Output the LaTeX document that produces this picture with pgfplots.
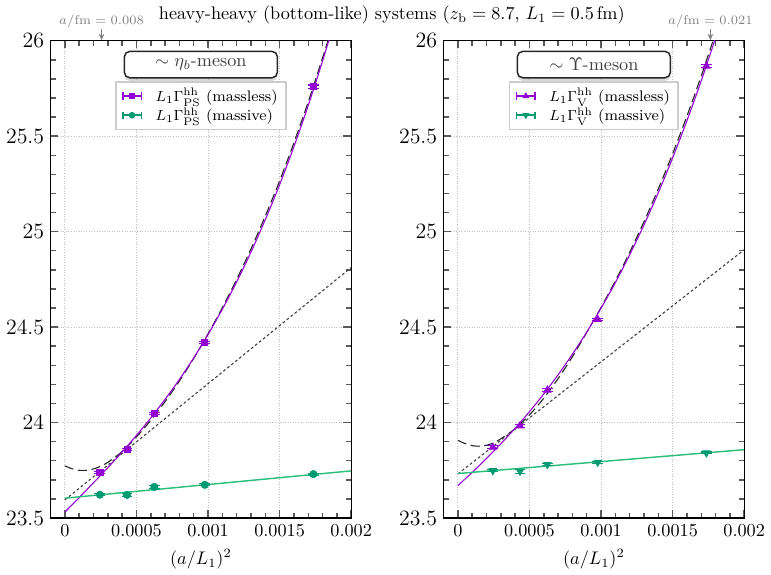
\documentclass[border=0pt]{standalone}
\usepackage{pgfplots}
\pgfplotsset{compat=1.18}
\usetikzlibrary{shadows,arrows.meta}

\definecolor{mlpurple}{RGB}{148,0,211}
\definecolor{mvgreen}{RGB}{0,155,115}
\definecolor{mvline}{RGB}{45,190,125}

\tikzset{
  mesonbox/.style={draw=black!85, fill=white, rounded corners=3pt, line width=0.8pt,
    minimum width=84pt, minimum height=14.5pt, text=black!75,
    drop shadow={shadow xshift=0pt, shadow yshift=-1.8pt, opacity=0.3}},
  latnote/.style={text=gray, font=\scriptsize, inner sep=0pt, anchor=center},
  latarrow/.style={gray, -{Stealth[length=3.5pt,width=3pt]}, line width=0.5pt},
}

\pgfplotsset{
  hh/.style={
    scale only axis, width=165pt, height=262pt,
    xmin=-0.0001, xmax=0.002, ymin=23.5, ymax=26,
    scaled x ticks=false,
    xtick={0,0.0005,0.001,0.0015,0.002},
    xticklabels={0,0.0005,0.001,0.0015,0.002},
    ytick={23.5,24,24.5,25,25.5,26},
    yticklabels={23.5,24,24.5,25,25.5,26},
    yticklabel style={font=\large},
    minor x tick num=4, minor y tick num=4,
    grid=major, grid style={densely dotted, black!25, line width=0.5pt},
    axis line style={line width=0.7pt},
    tick style={black!65, line width=0.8pt},
    tick align=inside,
    xlabel={$(a/L_1)^2$},
    clip mode=individual,
    legend style={at={(0.5,0.915)}, anchor=north, draw=black!20, line width=0.8pt,
      fill=white, font=\fontsize{8.4}{10}\selectfont, inner xsep=2.5pt, inner ysep=1.5pt,
      row sep=-2pt, cells={anchor=west}},
    legend image code/.code={%
      \draw[#1,mark=none,{Bar[width=4pt]}-{Bar[width=4pt]}] (0pt,0pt) -- (11pt,0pt);
      \draw[#1,mark size=1.4pt] plot coordinates {(5.5pt,0pt)};
      \path (-0.5pt,0pt) (16pt,0pt);
    },
    error bars/y dir=both, error bars/y explicit,
    error bars/error mark options={rotate=90, mark size=3pt, line width=0.6pt},
  },
  fitcurve/.style={mlpurple, line width=0.6pt, forget plot, smooth},
  longdash/.style={black!85, line width=0.6pt, dash pattern=on 5pt off 2.5pt, forget plot, smooth},
  shortdash/.style={black!75, line width=0.6pt, dash pattern=on 1.5pt off 1.3pt, forget plot},
  greenfit/.style={mvline, line width=0.8pt, forget plot},
}

\begin{document}
\begin{tikzpicture}

% ---------------- pseudoscalar channel ----------------
\begin{axis}[hh, name=L]
  % fits
  \addplot[longdash] coordinates {
    (0,23.773) (0.00005,23.758) (0.0001,23.750) (0.00015,23.750) (0.0002,23.757)
    (0.00025,23.771) (0.0003,23.792) (0.0004,23.848) (0.0005,23.925) (0.0006,24.012)
    (0.0007,24.110) (0.0008,24.218) (0.0009,24.336) (0.001,24.465) (0.0011,24.602)
    (0.0012,24.750) (0.0013,24.910) (0.0014,25.082) (0.0015,25.266) (0.0016,25.466)
    (0.0017,25.680) (0.0018,25.910) (0.00185,26.030)};
  \addplot[shortdash] coordinates {(0,23.595) (0.002,24.812)};
  \addplot[fitcurve] coordinates {
    (0,23.531) (0.0001,23.607) (0.0002,23.685) (0.0003,23.764) (0.0004,23.846)
    (0.0005,23.933) (0.0006,24.024) (0.0007,24.122) (0.0008,24.226) (0.0009,24.339)
    (0.001,24.461) (0.0011,24.594) (0.0012,24.737) (0.0013,24.893) (0.0014,25.063)
    (0.0015,25.246) (0.0016,25.445) (0.0017,25.661) (0.0018,25.894) (0.00185,26.018)};
  \addplot[greenfit] coordinates {(0,23.604) (0.002,23.747)};
  % data
  \addplot[mlpurple, only marks, mark=square*, mark size=1.7pt,
    error bars/error bar style={line width=0.6pt}] coordinates {
    (0.000244,23.738) +- (0,0.006)
    (0.000434,23.858) +- (0,0.006)
    (0.000625,24.048) +- (0,0.007)
    (0.000977,24.419) +- (0,0.007)
    (0.001736,25.760) +- (0,0.008)};
  \addlegendentry{$L_1\Gamma^{\mathrm{hh}}_{\mathrm{PS}}$ (massless)}
  \addplot[mvgreen, only marks, mark=*, mark size=2pt,
    error bars/error bar style={line width=0.6pt}] coordinates {
    (0.000244,23.622) +- (0,0.006)
    (0.000434,23.621) +- (0,0.009)
    (0.000625,23.663) +- (0,0.006)
    (0.000977,23.674) +- (0,0.005)
    (0.001736,23.730) +- (0,0.005)};
  \addlegendentry{$L_1\Gamma^{\mathrm{hh}}_{\mathrm{PS}}$ (massive)}
  \node[mesonbox] at (rel axis cs:0.5,0.95) {$\sim\eta_b$-meson};
\end{axis}

% ---------------- vector channel ----------------
\begin{axis}[hh, name=R, at={(215.7pt,0pt)}]
  \addplot[longdash] coordinates {
    (0,23.907) (0.00005,23.890) (0.0001,23.879) (0.00015,23.876) (0.0002,23.881)
    (0.00025,23.894) (0.0003,23.915) (0.0004,23.968) (0.0005,24.040) (0.0006,24.128)
    (0.0007,24.230) (0.0008,24.345) (0.0009,24.472) (0.001,24.603) (0.0011,24.742)
    (0.0012,24.892) (0.0013,25.052) (0.0014,25.224) (0.0015,25.408) (0.0016,25.605)
    (0.0017,25.815) (0.0018,26.040)};
  \addplot[shortdash] coordinates {(0,23.731) (0.002,24.905)};
  \addplot[fitcurve] coordinates {
    (0,23.670) (0.0001,23.739) (0.0002,23.812) (0.0003,23.889) (0.0004,23.970)
    (0.0005,24.057) (0.0006,24.150) (0.0007,24.250) (0.0008,24.358) (0.0009,24.474)
    (0.001,24.599) (0.0011,24.733) (0.0012,24.879) (0.0013,25.035) (0.0014,25.204)
    (0.0015,25.386) (0.0016,25.581) (0.0017,25.790) (0.0018,26.014)};
  \addplot[greenfit] coordinates {(0,23.733) (0.002,23.858)};
  \addplot[mlpurple, only marks, mark=triangle*, mark size=2.3pt,
    error bars/error bar style={line width=0.6pt}] coordinates {
    (0.000244,23.871) +- (0,0.007)
    (0.000434,23.983) +- (0,0.007)
    (0.000625,24.170) +- (0,0.008)
    (0.000977,24.540) +- (0,0.007)
    (0.001736,25.867) +- (0,0.008)};
  \addlegendentry{$L_1\Gamma^{\mathrm{hh}}_{\mathrm{V}}$ (massless)}
  \addplot[mvgreen, only marks, mark=triangle*, mark size=2.3pt,
    mark options={rotate=180},
    error bars/error bar style={line width=0.6pt}] coordinates {
    (0.000244,23.748) +- (0,0.006)
    (0.000434,23.745) +- (0,0.010)
    (0.000625,23.780) +- (0,0.006)
    (0.000977,23.792) +- (0,0.005)
    (0.001736,23.841) +- (0,0.005)};
  \addlegendentry{$L_1\Gamma^{\mathrm{hh}}_{\mathrm{V}}$ (massive)}
  \node[mesonbox] at (rel axis cs:0.5,0.95) {$\sim\Upsilon$-meson};
\end{axis}

% finest and coarsest lattice spacing, marked above the top axes
% (x positions: (a/L_1)^2 = 0.000256 and 0.001764 on the 165pt-wide axes)
\draw[latarrow] (27.97pt,268.5pt) -- (27.97pt,262.3pt);
\node[latnote] at (27.97pt,272.5pt) {$a/\mathrm{fm}=0.008$};
\draw[latarrow] (362.16pt,268.5pt) -- (362.16pt,262.3pt);
\node[latnote] at (362.16pt,272.5pt) {$a/\mathrm{fm}=0.021$};

\node at (187.3pt,276pt) {heavy-heavy (bottom-like) systems ($z_{\mathrm{b}}=8.7$, $L_1=0.5\,\mathrm{fm}$)};
\end{tikzpicture}
\end{document}
